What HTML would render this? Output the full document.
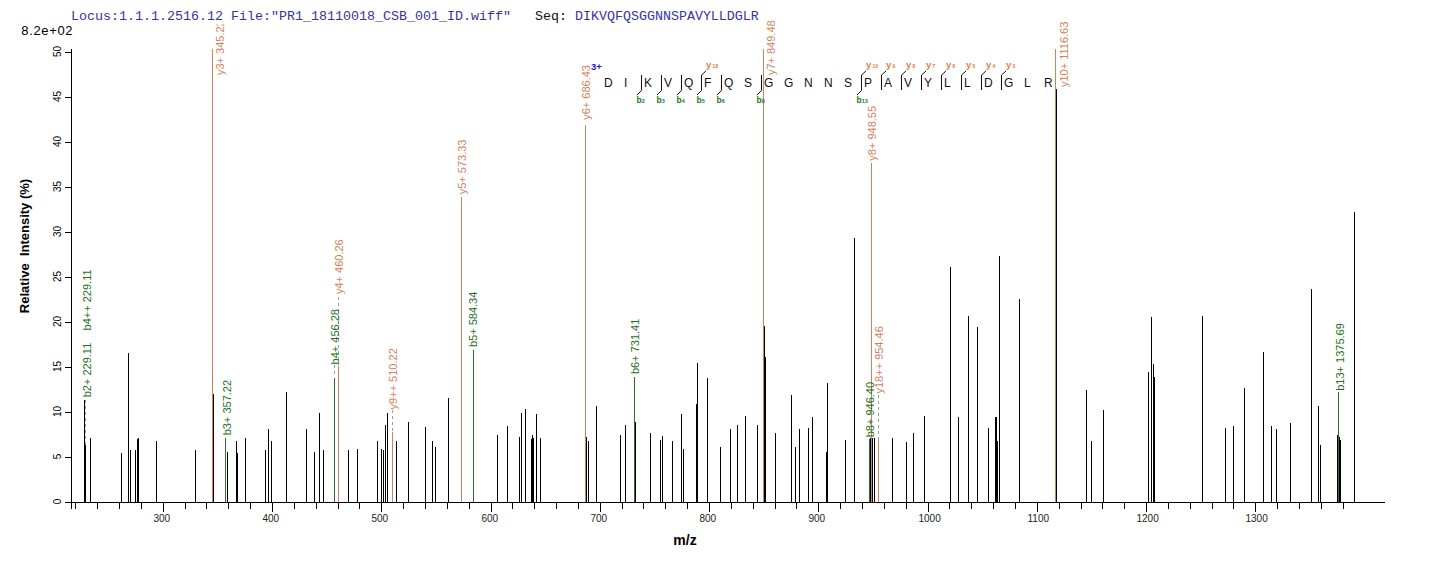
<!DOCTYPE html><html><head><meta charset="utf-8"><style>
html,body{margin:0;padding:0;background:#fff;width:1436px;height:562px;overflow:hidden}
svg{position:absolute;left:0;top:0}
text{font-family:"Liberation Sans",sans-serif}
</style></head><body>
<svg width="1436" height="562" viewBox="0 0 1436 562">
<text x="21.3" y="35" style="font-size:13px;letter-spacing:0.65px" fill="#000">8.2e+02</text>
<path d="M71.5 49V509M65 502.5H1385M65 502.5H71M65 457.5H71M65 412.5H71M65 367.5H71M65 322.5H71M65 277.5H71M65 232.5H71M65 187.5H71M65 142.5H71M65 97.5H71M65 52.5H71M75.5 503v6M97.5 503v6M119.5 503v6M141.5 503v6M163.5 503v9M185.5 503v6M206.5 503v6M228.5 503v6M250.5 503v6M272.5 503v9M294.5 503v6M316.5 503v6M338.5 503v6M359.5 503v6M381.5 503v9M403.5 503v6M425.5 503v6M447.5 503v6M469.5 503v6M491.5 503v9M512.5 503v6M534.5 503v6M556.5 503v6M578.5 503v6M600.5 503v9M622.5 503v6M643.5 503v6M665.5 503v6M687.5 503v6M709.5 503v9M731.5 503v6M753.5 503v6M775.5 503v6M796.5 503v6M818.5 503v9M840.5 503v6M862.5 503v6M884.5 503v6M906.5 503v6M928.5 503v9M949.5 503v6M971.5 503v6M993.5 503v6M1015.5 503v6M1037.5 503v9M1059.5 503v6M1081.5 503v6M1102.5 503v6M1124.5 503v6M1146.5 503v9M1168.5 503v6M1190.5 503v6M1212.5 503v6M1233.5 503v6M1255.5 503v9M1277.5 503v6M1299.5 503v6M1321.5 503v6M1343.5 503v6" stroke="#000" stroke-width="1" fill="none" shape-rendering="crispEdges"/>
<text transform="translate(61,501.5) rotate(-90)" text-anchor="middle" style="font-size:10px" fill="#000">0</text>
<text transform="translate(61,456.5) rotate(-90)" text-anchor="middle" style="font-size:10px" fill="#000">5</text>
<text transform="translate(61,411.5) rotate(-90)" text-anchor="middle" style="font-size:10px" fill="#000">10</text>
<text transform="translate(61,366.5) rotate(-90)" text-anchor="middle" style="font-size:10px" fill="#000">15</text>
<text transform="translate(61,321.5) rotate(-90)" text-anchor="middle" style="font-size:10px" fill="#000">20</text>
<text transform="translate(61,276.5) rotate(-90)" text-anchor="middle" style="font-size:10px" fill="#000">25</text>
<text transform="translate(61,231.5) rotate(-90)" text-anchor="middle" style="font-size:10px" fill="#000">30</text>
<text transform="translate(61,186.5) rotate(-90)" text-anchor="middle" style="font-size:10px" fill="#000">35</text>
<text transform="translate(61,141.5) rotate(-90)" text-anchor="middle" style="font-size:10px" fill="#000">40</text>
<text transform="translate(61,96.5) rotate(-90)" text-anchor="middle" style="font-size:10px" fill="#000">45</text>
<text transform="translate(61,51.5) rotate(-90)" text-anchor="middle" style="font-size:10px" fill="#000">50</text>
<text x="153.5" y="522" style="font-size:10px" fill="#222">300</text>
<text x="262.5" y="522" style="font-size:10px" fill="#222">400</text>
<text x="371.5" y="522" style="font-size:10px" fill="#222">500</text>
<text x="481.5" y="522" style="font-size:10px" fill="#222">600</text>
<text x="590.5" y="522" style="font-size:10px" fill="#222">700</text>
<text x="699.5" y="522" style="font-size:10px" fill="#222">800</text>
<text x="808.5" y="522" style="font-size:10px" fill="#222">900</text>
<text x="918.5" y="522" style="font-size:10px" fill="#222">1000</text>
<text x="1027.5" y="522" style="font-size:10px" fill="#222">1100</text>
<text x="1136.5" y="522" style="font-size:10px" fill="#222">1200</text>
<text x="1245.5" y="522" style="font-size:10px" fill="#222">1300</text>
<text transform="translate(29,246) rotate(-90)" text-anchor="middle" style="font-size:13px;font-weight:bold" fill="#000" xml:space="preserve">Relative  Intensity (%)</text>
<text x="685" y="545" text-anchor="middle" style="font-size:14px;font-weight:bold" fill="#000">m/z</text>
<path d="M84.5 400V502M85.5 445V502M90.5 438V502M121.5 453V502M128.5 353V502M130.5 450V502M135.5 450V502M137.5 439V502M138.5 438V502M156.5 441V502M195.5 450V502M213.5 394V502M227.5 452V502M236.5 441V502M237.5 453V502M245.5 438V502M265.5 450V502M268.5 429V502M271.5 441V502M286.5 392V502M306.5 429V502M314.5 452V502M319.5 413V502M323.5 450V502M348.5 450V502M357.5 449V502M377.5 441V502M381.5 449V502M383.5 450V502M385.5 425V502M387.5 413V502M396.5 441V502M408.5 422V502M425.5 427V502M432.5 441V502M435.5 447V502M448.5 398V502M497.5 435V502M507.5 426V502M519.5 437V502M521.5 413V502M525.5 409V502M531.5 439V502M532.5 435V502M533.5 438V502M536.5 414V502M540.5 438V502M586.5 437V502M588.5 441V502M596.5 406V502M620.5 435V502M625.5 425V502M635.5 422V502M650.5 433V502M660.5 440V502M662.5 436V502M672.5 441V502M681.5 414V502M683.5 449V502M696.5 404V502M697.5 363V502M707.5 378V502M720.5 447V502M730.5 429V502M737.5 425V502M745.5 416V502M757.5 425V502M764.5 326V502M765.5 357V502M775.5 433V502M791.5 395V502M795.5 447V502M799.5 429V502M808.5 428V502M812.5 417V502M826.5 452V502M827.5 383V502M845.5 440V502M854.5 238V502M870.5 438V502M872.5 438V502M874.5 438V502M892.5 438V502M906.5 442V502M913.5 433V502M924.5 416V502M950.5 267V502M958.5 417V502M968.5 316V502M977.5 327V502M988.5 428V502M995.5 417V502M996.5 417V502M997.5 441V502M999.5 256V502M1019.5 299V502M1056.5 89V502M1086.5 390V502M1091.5 441V502M1103.5 410V502M1148.5 372V502M1151.5 317V502M1153.5 364V502M1154.5 377V502M1202.5 316V502M1225.5 428V502M1233.5 426V502M1244.5 388V502M1263.5 352V502M1271.5 426V502M1276.5 429V502M1290.5 423V502M1311.5 289V502M1318.5 406V502M1320.5 445V502M1337.5 435V502M1339.5 437V502M1340.5 440V502M1354.5 212V502" stroke="#000" stroke-width="1" fill="none" shape-rendering="crispEdges"/>
<path d="M212.5 49V502M338.5 366V502M392.5 432V502M461.5 197V502M585.5 125V502M763.5 49V502M871.5 163V502M878.5 439V502M1055.5 49V502" stroke="#d2825a" stroke-width="1" fill="none" shape-rendering="crispEdges"/>
<path d="M225.5 438V502M334.5 378V502M473.5 350V502M634.5 377V502M869.5 439V502M1338.5 392V502" stroke="#2a6e32" stroke-width="1" fill="none" shape-rendering="crispEdges"/>
<path d="M85.5 400V445M338.5 297V365M334.5 365V377M392.5 410V432M878.5 395V439" stroke="#9a9a9a" stroke-width="1" stroke-dasharray="3,3" fill="none" shape-rendering="crispEdges"/>
<text x="604" y="87" style="font-size:12px" fill="#111">D</text>
<text x="624" y="87" style="font-size:12px" fill="#111">I</text>
<text x="644" y="87" style="font-size:12px" fill="#111">K</text>
<text x="664" y="87" style="font-size:12px" fill="#111">V</text>
<text x="684" y="87" style="font-size:12px" fill="#111">Q</text>
<text x="704" y="87" style="font-size:12px" fill="#111">F</text>
<text x="724" y="87" style="font-size:12px" fill="#111">Q</text>
<text x="744" y="87" style="font-size:12px" fill="#111">S</text>
<text x="764" y="87" style="font-size:12px" fill="#111">G</text>
<text x="784" y="87" style="font-size:12px" fill="#111">G</text>
<text x="804" y="87" style="font-size:12px" fill="#111">N</text>
<text x="824" y="87" style="font-size:12px" fill="#111">N</text>
<text x="844" y="87" style="font-size:12px" fill="#111">S</text>
<text x="864" y="87" style="font-size:12px" fill="#111">P</text>
<text x="884" y="87" style="font-size:12px" fill="#111">A</text>
<text x="904" y="87" style="font-size:12px" fill="#111">V</text>
<text x="924" y="87" style="font-size:12px" fill="#111">Y</text>
<text x="944" y="87" style="font-size:12px" fill="#111">L</text>
<text x="964" y="87" style="font-size:12px" fill="#111">L</text>
<text x="984" y="87" style="font-size:12px" fill="#111">D</text>
<text x="1004" y="87" style="font-size:12px" fill="#111">G</text>
<text x="1024" y="87" style="font-size:12px" fill="#111">L</text>
<text x="1044" y="87" style="font-size:12px" fill="#111">R</text>
<text x="591" y="70" style="font-size:9.5px;font-weight:bold" fill="#1a1ad0">3+</text>
<path d="M641.5 75V90.5L637.0 95M661.5 75V90.5L657.0 95M681.5 75V90.5L677.0 95M701.5 75V90.5L697.0 95M721.5 75V90.5L717.0 95M761.5 75V90.5L757.0 95M861.5 75V90.5L857.0 95M701.5 90V75L706.0 71M861.5 90V75L866.0 71M881.5 90V75L886.0 71M901.5 90V75L906.0 71M921.5 90V75L926.0 71M941.5 90V75L946.0 71M961.5 90V75L966.0 71M981.5 90V75L986.0 71M1001.5 90V75L1006.0 71" stroke="#111" stroke-width="1" fill="none"/>
<text x="636.5" y="102.5" style="font-size:8.5px;font-weight:bold" fill="#1f7a1f">b<tspan style="font-size:5.5px">2</tspan></text>
<text x="656.5" y="102.5" style="font-size:8.5px;font-weight:bold" fill="#1f7a1f">b<tspan style="font-size:5.5px">3</tspan></text>
<text x="676.5" y="102.5" style="font-size:8.5px;font-weight:bold" fill="#1f7a1f">b<tspan style="font-size:5.5px">4</tspan></text>
<text x="696.5" y="102.5" style="font-size:8.5px;font-weight:bold" fill="#1f7a1f">b<tspan style="font-size:5.5px">5</tspan></text>
<text x="716.5" y="102.5" style="font-size:8.5px;font-weight:bold" fill="#1f7a1f">b<tspan style="font-size:5.5px">6</tspan></text>
<text x="756.5" y="102.5" style="font-size:8.5px;font-weight:bold" fill="#1f7a1f">b<tspan style="font-size:5.5px">8</tspan></text>
<text x="856.5" y="102.5" style="font-size:8.5px;font-weight:bold" fill="#1f7a1f">b<tspan style="font-size:5.5px">13</tspan></text>
<text x="706.0" y="68" style="font-size:9.5px;font-weight:bold" fill="#e07f50">y<tspan dx="1" style="font-size:5.5px">18</tspan></text>
<text x="866.0" y="68" style="font-size:9.5px;font-weight:bold" fill="#e07f50">y<tspan dx="1" style="font-size:5.5px">10</tspan></text>
<text x="886.0" y="68" style="font-size:9.5px;font-weight:bold" fill="#e07f50">y<tspan dx="1" style="font-size:5.5px">9</tspan></text>
<text x="906.0" y="68" style="font-size:9.5px;font-weight:bold" fill="#e07f50">y<tspan dx="1" style="font-size:5.5px">8</tspan></text>
<text x="926.0" y="68" style="font-size:9.5px;font-weight:bold" fill="#e07f50">y<tspan dx="1" style="font-size:5.5px">7</tspan></text>
<text x="946.0" y="68" style="font-size:9.5px;font-weight:bold" fill="#e07f50">y<tspan dx="1" style="font-size:5.5px">6</tspan></text>
<text x="966.0" y="68" style="font-size:9.5px;font-weight:bold" fill="#e07f50">y<tspan dx="1" style="font-size:5.5px">5</tspan></text>
<text x="986.0" y="68" style="font-size:9.5px;font-weight:bold" fill="#e07f50">y<tspan dx="1" style="font-size:5.5px">4</tspan></text>
<text x="1006.0" y="68" style="font-size:9.5px;font-weight:bold" fill="#e07f50">y<tspan dx="1" style="font-size:5.5px">3</tspan></text>
<text transform="translate(90.5,397.3) rotate(-90)" style="font-size:11px" fill="#1e701e">b2+ 229.11</text>
<text transform="translate(90.5,330.4) rotate(-90)" style="font-size:11px" fill="#1e701e">b4++ 229.11</text>
<text transform="translate(224,75) rotate(-90)" style="font-size:11px" fill="#d2825a">y3+ 345.22</text>
<text transform="translate(230.7,435.3) rotate(-90)" style="font-size:11px" fill="#1e701e">b3+ 357.22</text>
<text transform="translate(339,364.4) rotate(-90)" style="font-size:11px" fill="#1e701e">b4+ 456.28</text>
<text transform="translate(342.7,294) rotate(-90)" style="font-size:11px" fill="#d2825a">y4+ 460.26</text>
<text transform="translate(396.6,409.4) rotate(-90)" style="font-size:11px" fill="#d2825a">y9++ 510.22</text>
<text transform="translate(466,194.3) rotate(-90)" style="font-size:11px" fill="#d2825a">y5+ 573.33</text>
<text transform="translate(477.4,347) rotate(-90)" style="font-size:11px" fill="#1e701e">b5+ 584.34</text>
<text transform="translate(589.9,119.8) rotate(-90)" style="font-size:11px" fill="#d2825a">y6+ 686.43</text>
<text transform="translate(638.7,374) rotate(-90)" style="font-size:11px" fill="#1e701e">b6+ 731.41</text>
<text transform="translate(774.7,75.1) rotate(-90)" style="font-size:11px" fill="#d2825a">y7+ 849.48</text>
<text transform="translate(875.6,160.7) rotate(-90)" style="font-size:11px" fill="#d2825a">y8+ 948.55</text>
<text transform="translate(874.2,437.3) rotate(-90)" style="font-size:11px" fill="#1e701e">b8+ 946.40</text>
<text transform="translate(883.3,393.5) rotate(-90)" style="font-size:11px" fill="#d2825a">y18++ 954.46</text>
<text transform="translate(1067.5,87) rotate(-90)" style="font-size:11px" fill="#d2825a">y10+ 1116.63</text>
<text transform="translate(1343.8,390.8) rotate(-90)" style="font-size:11px" fill="#1e701e">b13+ 1375.69</text>
<rect x="60" y="0" width="702" height="24.5" fill="#fff"/>
<text x="71" y="20" style="font-family:'Liberation Mono',monospace;font-size:13.333px" fill="#3434a8" xml:space="preserve">Locus:1.1.1.2516.12 File:"PR1_18110018_CSB_001_ID.wiff"   <tspan fill="#111">Seq:</tspan> DIKVQFQSGGNNSPAVYLLDGLR</text>
</svg></body></html>
